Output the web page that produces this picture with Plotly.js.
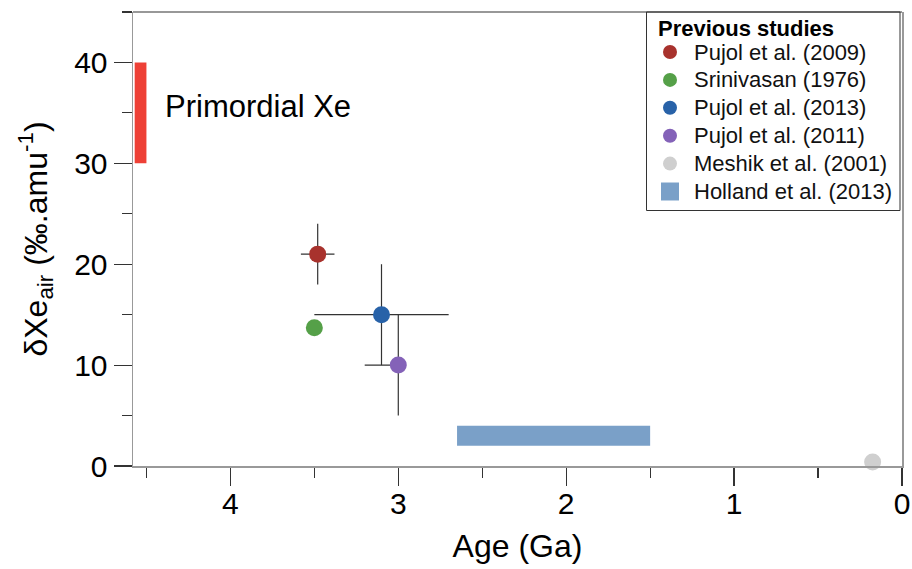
<!DOCTYPE html>
<html>
<head>
<meta charset="utf-8">
<script src="https://cdn.plot.ly/plotly-3.0.1.min.js"></script>
<style>html,body{margin:0;padding:0;background:#fff}#chart{width:912px;height:569px}</style>
</head>
<body>
<div id="chart"></div>
<script>
// ---- data ----
const studyNames = ["Pujol et al. (2009)", "Srinivasan (1976)", "Pujol et al. (2013)", "Pujol et al. (2011)", "Meshik et al. (2001)"];
const studyAge = [3.48, 3.5, 3.1, 3.0, 0.175];
const studyDelta = [21, 13.7, 15, 10, 0.4];
const studyAgeErrOlder = [0.1, 0, 0.4, 0.2, 0];   // towards older ages (increasing x)
const studyAgeErrYounger = [0.1, 0, 0.4, 0, 0];   // towards younger ages
const studyDeltaErr = [3, 0, 5, 5, 0];
const studyColors = ["#a8322d", "#55a048", "#2862a8", "#8462b8", "#cfcfcf"];

const hollandName = "Holland et al. (2013)";
const hollandAge = [2.65, 1.5];
const hollandDelta = [2, 4];
const hollandColor = "#7aa0c8";

const primordialLabel = "Primordial Xe";
const primordialAge = [4.57, 4.5];
const primordialDelta = [30, 40];

const legendTitle = "Previous studies";
const xTickVals = [4, 3, 2, 1, 0];
const yTickVals = [0, 10, 20, 30, 40];

// ---- layout helpers (pixel -> paper) ----
const W = 912, H = 569, ML = 133, MR = 10, MT = 12, MB = 103;
const PW = W - ML - MR, PH = H - MT - MB;
const px = v => (v - ML) / PW;
const py = v => (H - MB - v) / PH;
const FONT = "Liberation Sans, Arial, Helvetica, sans-serif";

// legend geometry (layout only)
const LEG = {left: 646.5, right: 900, top: 12, bottom: 210.5, titleX: 656, titleY: 29, markX: 670, textX: 692, row0: 52, rowStep: 27.9};

const traces = [];

// Primordial Xe bar
traces.push({
  type: "bar", orientation: "h",
  y: [(primordialDelta[0] + primordialDelta[1]) / 2],
  x: [primordialAge[0] - primordialAge[1]],
  base: [primordialAge[1]],
  width: [primordialDelta[1] - primordialDelta[0]],
  marker: {color: "#ee4036", line: {width: 0}},
  showlegend: false, hoverinfo: "skip"
});

// Holland bar
traces.push({
  type: "bar", orientation: "h",
  y: [(hollandDelta[0] + hollandDelta[1]) / 2],
  x: [hollandAge[0] - hollandAge[1]],
  base: [hollandAge[1]],
  width: [hollandDelta[1] - hollandDelta[0]],
  marker: {color: hollandColor, line: {width: 0}},
  showlegend: false, name: hollandName
});

studyNames.forEach((n, i) => {
  const hasX = studyAgeErrOlder[i] > 0 || studyAgeErrYounger[i] > 0;
  const hasY = studyDeltaErr[i] > 0;
  traces.push({
    type: "scatter", mode: "markers", name: n, showlegend: false,
    x: [studyAge[i]], y: [studyDelta[i]],
    marker: {color: studyColors[i], size: 17, opacity: 1},
    error_x: {type: "data", symmetric: false, array: [studyAgeErrOlder[i]], arrayminus: [studyAgeErrYounger[i]], visible: hasX, color: "#333", thickness: 1.2, width: 0},
    error_y: {type: "data", array: [studyDeltaErr[i]], visible: hasY, color: "#333", thickness: 1.2, width: 0},
    cliponaxis: false
  });
});

// custom legend markers on an overlay paper-like axis pair
const legNames = studyNames.concat([hollandName]);
const legColors = studyColors.concat([hollandColor]);
const legSymbols = studyNames.map(() => "circle").concat(["square"]);
const legSizes = studyNames.map(() => 14).concat([18]);
traces.push({
  type: "scatter", mode: "markers", xaxis: "x2", yaxis: "y2", showlegend: false, hoverinfo: "skip",
  x: legNames.map(() => px(LEG.markX)),
  y: legNames.map((_, i) => py(LEG.row0 + i * LEG.rowStep)),
  marker: {color: legColors, symbol: legSymbols, size: legSizes, opacity: 1, line: {width: 0}},
  cliponaxis: false
});

const annotations = [
  {text: primordialLabel, x: 4.40, y: 35.6, xref: "x", yref: "y", xanchor: "left", yanchor: "middle", showarrow: false, font: {size: 31, family: FONT, color: "#000"}},
  {text: "<b>" + legendTitle + "</b>", x: px(LEG.titleX), y: py(LEG.titleY), xref: "paper", yref: "paper", xanchor: "left", yanchor: "middle", showarrow: false, font: {size: 22, family: FONT, color: "#000"}}
];
legNames.forEach((n, i) => {
  annotations.push({text: n, x: px(LEG.textX), y: py(LEG.row0 + i * LEG.rowStep), xref: "paper", yref: "paper", xanchor: "left", yanchor: "middle", showarrow: false, font: {size: 22, family: FONT, color: "#111"}});
});

const layout = {
  width: W, height: H,
  margin: {l: ML, r: MR, t: MT, b: MB},
  paper_bgcolor: "#fff", plot_bgcolor: "#fff",
  font: {family: FONT, color: "#000"},
  showlegend: false,
  barmode: "overlay",
  xaxis: {
    range: [4.58, 0], tickvals: xTickVals, ticktext: xTickVals.map(String),
    showline: true, linecolor: "#999", linewidth: 1.5, mirror: false,
    ticks: "outside", ticklen: 18, tickwidth: 1.2, tickcolor: "#333",
    minor: {dtick: 0.5, tick0: 0, ticks: "outside", ticklen: 10, tickwidth: 1.2, tickcolor: "#333", showgrid: false},
    showgrid: false, zeroline: false, ticklabelstandoff: -8,
    tickfont: {size: 30, family: FONT},
    title: {text: "Age (Ga)", font: {size: 32, family: FONT}, standoff: 16}
  },
  yaxis: {
    range: [0, 45], tickvals: yTickVals, ticktext: yTickVals.map(String),
    showline: true, linecolor: "#999", linewidth: 1.5, mirror: true,
    ticks: "outside", ticklen: 18, tickwidth: 1.2, tickcolor: "#333",
    minor: {dtick: 5, tick0: 0, ticks: "outside", ticklen: 10, tickwidth: 1.2, tickcolor: "#333", showgrid: false},
    showgrid: false, zeroline: false,
    tickfont: {size: 30, family: FONT},
    title: {text: "δXe<sub>air</sub> (‰.amu<sup>-1</sup>)", font: {size: 32, family: FONT}, standoff: 17}
  },
  xaxis2: {overlaying: "x", anchor: "y2", range: [0, 1], visible: false, fixedrange: true},
  yaxis2: {overlaying: "y", anchor: "x2", range: [0, 1], visible: false, fixedrange: true},
  shapes: [
    {type: "line", xref: "paper", yref: "paper", x0: 0, x1: 1, y0: 1, y1: 1, line: {color: "#333", width: 1.2}},
    {type: "rect", xref: "paper", yref: "paper", x0: px(LEG.left), x1: px(LEG.right), y0: py(LEG.bottom), y1: py(LEG.top), line: {color: "#333", width: 1}, fillcolor: "rgba(255,255,255,1)", layer: "below"}
  ],
  annotations: annotations
};

Plotly.newPlot("chart", traces, layout, {displayModeBar: false, staticPlot: true});
</script>
</body>
</html>
